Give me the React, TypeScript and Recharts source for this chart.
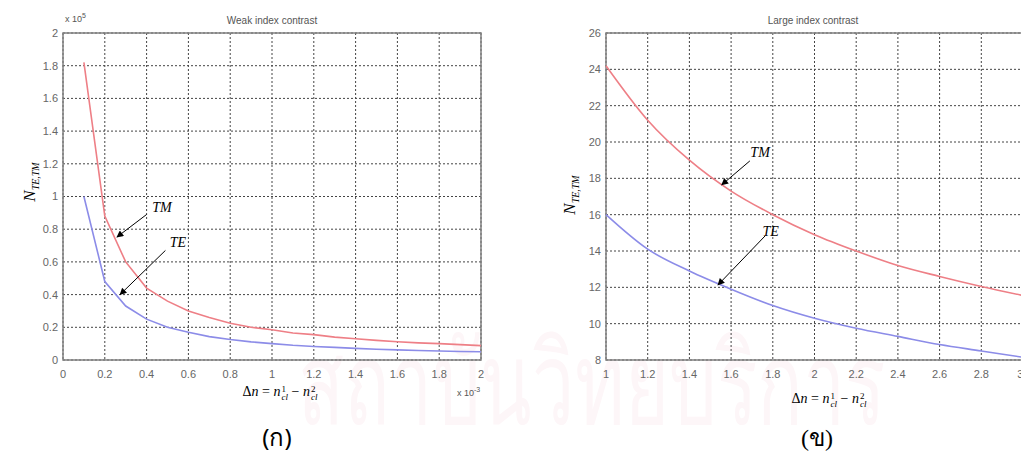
import React from 'react';
import { LineChart, Line, XAxis, YAxis, CartesianGrid, ReferenceArea, ReferenceLine, ReferenceDot } from 'recharts';

// weak index contrast (x in units of 1e-3, y in units of 1e5)
const weakDn = [0.1, 0.2, 0.3, 0.4, 0.5, 0.6, 0.7, 0.8, 0.9, 1.0, 1.1, 1.2, 1.3, 1.4, 1.5, 1.6, 1.7, 1.8, 1.9, 2.0];
const weakTM = [1.82, 0.88, 0.6, 0.44, 0.36, 0.3, 0.26, 0.225, 0.2, 0.185, 0.165, 0.155, 0.14, 0.13, 0.12, 0.112, 0.105, 0.1, 0.094, 0.088];
const weakTE = [1.0, 0.48, 0.33, 0.25, 0.2, 0.17, 0.143, 0.125, 0.111, 0.1, 0.09, 0.083, 0.077, 0.071, 0.066, 0.062, 0.058, 0.055, 0.052, 0.05];
const weakXTicks = [0, 0.2, 0.4, 0.6, 0.8, 1, 1.2, 1.4, 1.6, 1.8, 2];
const weakYTicks = [0, 0.2, 0.4, 0.6, 0.8, 1, 1.2, 1.4, 1.6, 1.8, 2];

// large index contrast
const largeDn = [1.0, 1.2, 1.4, 1.6, 1.8, 2.0, 2.2, 2.4, 2.6, 2.8, 3.0];
const largeTM = [24.2, 21.2, 19.0, 17.3, 16.0, 14.9, 14.0, 13.2, 12.6, 12.05, 11.55];
const largeTE = [16.0, 14.1, 12.9, 11.9, 11.0, 10.3, 9.75, 9.3, 8.85, 8.5, 8.15];
const largeXTicks = [1, 1.2, 1.4, 1.6, 1.8, 2, 2.2, 2.4, 2.6, 2.8, 3];
const largeYTicks = [8, 10, 12, 14, 16, 18, 20, 22, 24, 26];

const weakData = weakDn.map((x, i) => ({ x, tm: weakTM[i], te: weakTE[i] }));
const largeData = largeDn.map((x, i) => ({ x, tm: largeTM[i], te: largeTE[i] }));

const RED = '#ee7f86';
const BLUE = '#8c8ce8';
const tickStyle = { fill: '#666', fontSize: 11, fontFamily: 'Liberation Sans, Arial, sans-serif' };
const fmt = (v: number) => String(Math.round(v * 10) / 10);

const noteShape = (txt: string) => (p: any) => (
  <text x={p.cx} y={p.cy} textAnchor="middle" dominantBaseline="central"
    fontFamily="Liberation Serif, serif" fontStyle="italic" fontSize={14} fill="#000">{txt}</text>
);

function Stack({ top, bot }: { top: string; bot: string }) {
  return (
    <span style={{ display: 'inline-flex', flexDirection: 'column', fontSize: 9, lineHeight: '8px', verticalAlign: 'middle', marginLeft: 1 }}>
      <span>{top}</span>
      <span style={{ fontStyle: 'italic' }}>{bot}</span>
    </span>
  );
}

function DnLabel({ left, top }: { left: number; top: number }) {
  return (
    <div style={{ position: 'absolute', left, top, transform: 'translate(-50%,-50%)', fontFamily: 'Liberation Serif, serif', fontSize: 14, color: '#000', whiteSpace: 'nowrap' }}>
      Δ<i>n</i> = <i>n</i><Stack top="1" bot="cl" /> − <i>n</i><Stack top="2" bot="cl" />
    </div>
  );
}

function NLabel({ left, top }: { left: number; top: number }) {
  return (
    <div style={{ position: 'absolute', left, top, transform: 'translate(-50%,-50%) rotate(-90deg)', fontFamily: 'Liberation Serif, serif', fontStyle: 'italic', color: '#000', whiteSpace: 'nowrap' }}>
      <span style={{ fontSize: 17 }}>N</span><span style={{ fontSize: 10, position: 'relative', top: 4 }}>TE,TM</span>
    </div>
  );
}

const arrowDefs = (id: string) => (
  <defs>
    <marker id={id} viewBox="0 0 10 10" refX="9" refY="5" markerWidth="9" markerHeight="7" orient="auto-start-reverse" markerUnits="userSpaceOnUse">
      <path d="M0,0 L10,5 L0,10 z" fill="#000" />
    </marker>
  </defs>
);

export default function App() {
  return (
    <div style={{ position: 'absolute', left: 0, top: 0, width: 1021, height: 451, overflow: 'hidden', background: '#fff' }}>
      {/* faint watermark behind the figure */}
      <div style={{ position: 'absolute', left: 592, top: 383, transform: 'translate(-50%,-50%) scale(0.82,1.25)', fontSize: 92, color: '#fdf6f8', fontFamily: 'Noto Sans, DejaVu Sans, sans-serif', whiteSpace: 'nowrap' }}>
        สถาบันวิทยบริการ
      </div>

      {/* left: weak index contrast */}
      <div style={{ position: 'absolute', left: 0, top: 0 }}>
        <LineChart width={520} height={451} data={weakData} margin={{ top: 33, right: 39, bottom: 61, left: 0 }}>
          {arrowDefs('arrW')}
          <CartesianGrid stroke="#444" strokeDasharray="2 2" />
          <XAxis type="number" dataKey="x" domain={[0, 2]} ticks={weakXTicks} tickFormatter={fmt}
            axisLine={false} tickLine={false} tick={tickStyle} tickMargin={4} height={30} />
          <YAxis type="number" domain={[0, 2]} ticks={weakYTicks} tickFormatter={fmt}
            axisLine={false} tickLine={false} tick={tickStyle} tickSize={2} tickMargin={3} width={63} />
          <ReferenceArea x1={0} x2={2} y1={0} y2={2} fill="none" stroke="#808080" strokeWidth={1.5} />
          <Line type="linear" dataKey="tm" stroke={RED} strokeWidth={1.6} dot={false} isAnimationActive={false} />
          <Line type="linear" dataKey="te" stroke={BLUE} strokeWidth={1.6} dot={false} isAnimationActive={false} />
          <ReferenceLine segment={[{ x: 0.4, y: 0.89 }, { x: 0.258, y: 0.752 }]} stroke="#000" strokeWidth={1} markerEnd="url(#arrW)" />
          <ReferenceLine segment={[{ x: 0.49, y: 0.67 }, { x: 0.273, y: 0.4 }]} stroke="#000" strokeWidth={1} markerEnd="url(#arrW)" />
          <ReferenceDot x={0.474} y={0.93} r={0} shape={noteShape('TM')} />
          <ReferenceDot x={0.55} y={0.72} r={0} shape={noteShape('TE')} />
        </LineChart>
      </div>

      {/* right: large index contrast */}
      <div style={{ position: 'absolute', left: 520, top: 0 }}>
        <LineChart width={503} height={451} data={largeData} margin={{ top: 33, right: 0, bottom: 61, left: 0 }}>
          {arrowDefs('arrL')}
          <CartesianGrid stroke="#444" strokeDasharray="2 2" />
          <XAxis type="number" dataKey="x" domain={[1, 3]} ticks={largeXTicks} tickFormatter={fmt}
            axisLine={false} tickLine={false} tick={tickStyle} tickMargin={4} height={30} />
          <YAxis type="number" domain={[8, 26]} ticks={largeYTicks}
            axisLine={false} tickLine={false} tick={tickStyle} tickSize={2} tickMargin={3} width={86} />
          <ReferenceArea x1={1} x2={3} y1={8} y2={26} fill="none" stroke="#808080" strokeWidth={1.5} />
          <Line type="monotone" dataKey="tm" stroke={RED} strokeWidth={1.6} dot={false} isAnimationActive={false} />
          <Line type="monotone" dataKey="te" stroke={BLUE} strokeWidth={1.6} dot={false} isAnimationActive={false} />
          <ReferenceLine segment={[{ x: 1.69, y: 18.96 }, { x: 1.555, y: 17.64 }]} stroke="#000" strokeWidth={1} markerEnd="url(#arrL)" />
          <ReferenceLine segment={[{ x: 1.763, y: 14.83 }, { x: 1.537, y: 12.13 }]} stroke="#000" strokeWidth={1} markerEnd="url(#arrL)" />
          <ReferenceDot x={1.739} y={19.4} r={0} shape={noteShape('TM')} />
          <ReferenceDot x={1.79} y={15.1} r={0} shape={noteShape('TE')} />
        </LineChart>
      </div>

      {/* titles and labels */}
      <div style={{ position: 'absolute', left: 272, top: 20, transform: 'translate(-50%,-50%)', fontSize: 10, color: '#555', fontFamily: 'Liberation Sans, Arial, sans-serif', whiteSpace: 'nowrap' }}>Weak index contrast</div>
      <div style={{ position: 'absolute', left: 813, top: 20, transform: 'translate(-50%,-50%)', fontSize: 10, color: '#555', fontFamily: 'Liberation Sans, Arial, sans-serif', whiteSpace: 'nowrap' }}>Large index contrast</div>
      <div style={{ position: 'absolute', left: 65, top: 12, fontSize: 9, color: '#555', fontFamily: 'Liberation Sans, Arial, sans-serif', whiteSpace: 'nowrap' }}>x 10<sup style={{ fontSize: 7 }}>5</sup></div>
      <div style={{ position: 'absolute', left: 457, top: 386, fontSize: 9, color: '#555', fontFamily: 'Liberation Sans, Arial, sans-serif', whiteSpace: 'nowrap' }}>x 10<sup style={{ fontSize: 7 }}>-3</sup></div>
      <NLabel left={30} top={182} />
      <NLabel left={570} top={195} />
      <DnLabel left={280} top={392} />
      <DnLabel left={829} top={399} />
      <div style={{ position: 'absolute', left: 277, top: 437, transform: 'translate(-50%,-50%)', fontSize: 24, color: '#000', fontFamily: 'Noto Sans, DejaVu Sans, sans-serif', whiteSpace: 'nowrap' }}>(ก)</div>
      <div style={{ position: 'absolute', left: 817, top: 437, transform: 'translate(-50%,-50%)', fontSize: 24, color: '#000', fontFamily: 'Liberation Serif, serif', whiteSpace: 'nowrap' }}>(ข)</div>
    </div>
  );
}
